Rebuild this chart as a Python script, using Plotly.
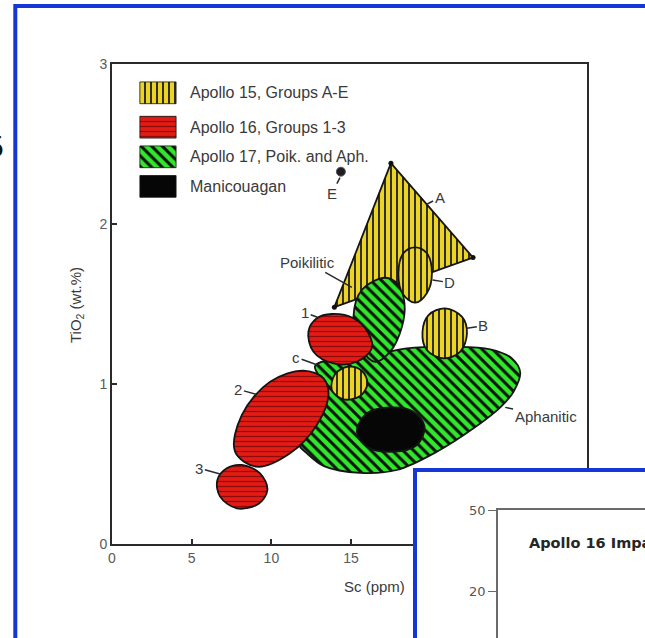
import math
import plotly.graph_objects as go

W, H = 645, 638

# ---------------- Field outlines: Sc (ppm) vs TiO2 (wt.%) ----------------
A15_A_SC = [17.50, 22.65, 13.95]
A15_A_TIO2 = [2.38, 1.79, 1.48]

A15_D_SC = [19.02, 19.75, 20.07, 19.75, 19.02, 18.25, 17.97, 18.28]
A15_D_TIO2 = [1.854, 1.817, 1.692, 1.567, 1.508, 1.5625, 1.692, 1.817]

A15_B_SC = [20.90, 21.95, 22.27, 21.85, 20.80, 19.75, 19.48, 19.86]
A15_B_TIO2 = [1.473, 1.421, 1.317, 1.202, 1.16, 1.2125, 1.327, 1.431]

A15_C_SC = [14.83, 15.67, 16.03, 15.57, 14.52, 13.79, 14.00]
A15_C_TIO2 = [1.108, 1.083, 1.004, 0.925, 0.904, 0.9625, 1.0625]

A15_E_SC = [14.36]
A15_E_TIO2 = [2.327]

A16_1_SC = [13.79, 15.15, 16.09, 16.30, 15.36, 13.89, 12.64, 12.32, 12.85]
A16_1_TIO2 = [1.4375, 1.4105, 1.317, 1.223, 1.139, 1.129, 1.202, 1.327, 1.4105]

A16_2_SC = [12.01, 13.27, 13.58, 12.85, 11.17, 9.08, 7.72, 8.14, 9.92]
A16_2_TIO2 = [1.083, 1.0355, 0.931, 0.744, 0.567, 0.483, 0.577, 0.806, 1.014]

A16_3_SC = [8.14, 9.29, 9.75, 9.18, 7.83, 6.78, 6.61, 7.20]
A16_3_TIO2 = [0.494, 0.442, 0.3375, 0.25, 0.223, 0.296, 0.40, 0.473]

A17_POIK_SC = [17.14, 17.97, 18.35, 18.19, 17.45, 16.51, 15.57, 15.15, 15.67]
A17_POIK_TIO2 = [1.664, 1.619, 1.504, 1.358, 1.202, 1.139, 1.233, 1.421, 1.5875]

A17_APH_SC = [12.74, 14.10, 16.40, 18.50, 21.43, 23.73, 25.09, 25.61, 25.19,
              24.36, 22.68, 20.38, 17.87, 15.57, 13.30, 12.20, 11.75, 12.60, 13.20]
A17_APH_TIO2 = [1.1125, 1.16, 1.181, 1.223, 1.233, 1.217, 1.16, 1.071, 0.952,
                0.854, 0.723, 0.577, 0.4625, 0.445, 0.487, 0.57, 0.62, 0.82, 1.0]

MANIC_SC = [17.50, 18.91, 19.61, 19.13, 17.66, 15.99, 15.36, 15.99]
MANIC_TIO2 = [0.854, 0.827, 0.733, 0.619, 0.577, 0.608, 0.702, 0.817]

# Field labels and the point each leader touches
LABEL_TEXT = ["A", "B", "c", "D", "E", "1", "2", "3", "Poikilitic", "Aphanitic"]
LABEL_SC = [20.55, 23.30, 11.55, 21.20, 13.79, 12.12, 7.93, 5.48, 12.26, 27.20]
LABEL_TIO2 = [2.165, 1.365, 1.167, 1.633, 2.19, 1.446, 0.967, 0.473, 1.76, 0.80]
LEADER_SC = [19.78, 22.27, 12.89, 20.11, 14.30, 12.89, 9.04, 6.78, 15.05, 24.67]
LEADER_TIO2 = [2.125, 1.348, 1.119, 1.65, 2.29, 1.417, 0.9355, 0.4375, 1.604, 0.854]

# Legend
LEGEND_LABELS = ["Apollo 15, Groups A-E", "Apollo 16, Groups 1-3",
                 "Apollo 17, Poik. and Aph.", "Manicouagan"]
LEGEND_KEYS = ["a15", "a16", "a17", "manic"]

# Axis ticks
X_TICKS = [0, 5, 10, 15, 20, 25, 30]
Y_TICKS = [0, 1, 2, 3]
INSET_TICKS = [20, 50]

# ---------------- Styling ----------------
OUTLINE = "#141414"
STYLE = {
    "a15": dict(fill="#ecd426", fg="#1c1c1c", shape="|", size=6, solidity=0.3),
    "a16": dict(fill="#e31b14", fg="#8e0b0b", shape="-", size=5, solidity=0.26),
    "a17": dict(fill="#30e82b", fg="#111111", shape="\\", size=7.5, solidity=0.4),
    "manic": dict(fill="#060606"),
}
TEXT = "#3a3a3a"
TICK_TEXT = "#5a5a5a"
FONT = "Liberation Sans, Arial, sans-serif"
BLUE = "#1637d6"

# legend geometry (axis units)
LEG_X0, LEG_X1, LEG_TXT_X = 1.75, 4.02, 4.77
LEG_ROW_Y = [2.82, 2.605, 2.42, 2.235]
LEG_HALF_H = 0.068


def px_x(x):
    return x / W


def px_y(y):
    return 1 - y / H


def field(xs, ys, key, smooth=True):
    st = STYLE[key]
    xs = list(xs) + [xs[0]]
    ys = list(ys) + [ys[0]]
    kw = dict(
        x=xs, y=ys, mode="lines", fill="toself", fillcolor=st["fill"],
        line=dict(color=OUTLINE, width=1.8,
                  shape="spline" if smooth else "linear", smoothing=1.0),
        hoverinfo="skip", showlegend=False,
    )
    if "shape" in st:
        kw["fillpattern"] = dict(shape=st["shape"], fgcolor=st["fg"],
                                 bgcolor=st["fill"], size=st["size"],
                                 solidity=st["solidity"], fillmode="replace")
    return go.Scatter(**kw)


fig = go.Figure()

# drawing order: bottom to top
fig.add_trace(field(A17_APH_SC, A17_APH_TIO2, "a17"))
fig.add_trace(field(A15_A_SC, A15_A_TIO2, "a15", smooth=False))
fig.add_trace(field(A17_POIK_SC, A17_POIK_TIO2, "a17"))
fig.add_trace(field(A15_D_SC, A15_D_TIO2, "a15"))
fig.add_trace(field(A15_B_SC, A15_B_TIO2, "a15"))
fig.add_trace(field(A15_C_SC, A15_C_TIO2, "a15"))
fig.add_trace(field(MANIC_SC, MANIC_TIO2, "manic"))
fig.add_trace(field(A16_2_SC, A16_2_TIO2, "a16"))
fig.add_trace(field(A16_3_SC, A16_3_TIO2, "a16"))
fig.add_trace(field(A16_1_SC, A16_1_TIO2, "a16"))

# vertex dots of field A and the single group E analysis
fig.add_trace(go.Scatter(x=A15_A_SC, y=A15_A_TIO2, mode="markers",
                         marker=dict(size=5, color="#111"), hoverinfo="skip",
                         showlegend=False))
fig.add_trace(go.Scatter(x=A15_E_SC, y=A15_E_TIO2, mode="markers",
                         marker=dict(size=9, color="#1e1e1e",
                                     line=dict(color="#555", width=1)),
                         hoverinfo="skip", showlegend=False))

# legend keys
for i, key in enumerate(LEGEND_KEYS):
    yc = LEG_ROW_Y[i]
    bx = [LEG_X0, LEG_X1, LEG_X1, LEG_X0]
    by = [yc - LEG_HALF_H, yc - LEG_HALF_H, yc + LEG_HALF_H, yc + LEG_HALF_H]
    tr = field(bx, by, key, smooth=False)
    tr.line.width = 0.8
    fig.add_trace(tr)

# inset placeholder trace so its axes exist
fig.add_trace(go.Scatter(x=[], y=[], xaxis="x3", yaxis="y3", showlegend=False))

annotations = []
for i, t in enumerate(LEGEND_LABELS):
    annotations.append(dict(
        x=LEG_TXT_X, y=LEG_ROW_Y[i], xref="x", yref="y", text=t,
        showarrow=False, xanchor="left", yanchor="middle",
        font=dict(family=FONT, size=16, color=TEXT)))

for t, lx, ly, tx, ty in zip(LABEL_TEXT, LABEL_SC, LABEL_TIO2, LEADER_SC, LEADER_TIO2):
    annotations.append(dict(
        x=tx, y=ty, xref="x", yref="y", ax=lx, ay=ly, axref="x", ayref="y",
        text=t, showarrow=True, arrowhead=0, arrowwidth=1.5,
        arrowcolor="#2a2a2a", standoff=0,
        font=dict(family=FONT, size=15, color=TEXT)))

# axis titles
annotations.append(dict(
    x=px_x(374), y=px_y(586), xref="paper", yref="paper", text="Sc (ppm)",
    showarrow=False, xanchor="center", yanchor="middle",
    font=dict(family=FONT, size=15, color=TEXT)))
annotations.append(dict(
    x=px_x(76), y=px_y(305), xref="paper", yref="paper",
    text="TiO<sub>2</sub> (wt.%)", textangle=-90, showarrow=False,
    xanchor="center", yanchor="middle",
    font=dict(family=FONT, size=15, color=TEXT)))

# inset title
annotations.append(dict(
    x=px_x(527), y=px_y(543), xref="paper", yref="paper",
    text="<b>Apollo 16 Impact Melts</b>", showarrow=False,
    xanchor="left", yanchor="middle",
    font=dict(family="DejaVu Sans, sans-serif", size=14.5, color="#262626")))

# figure-number glyph at the left edge
annotations.append(dict(
    x=px_x(7), y=px_y(147), xref="paper", yref="paper", text="5",
    showarrow=False, xanchor="right", yanchor="middle",
    font=dict(family="DejaVu Sans, sans-serif", size=28, color="#111")))

axis_common = dict(showgrid=False, zeroline=False, automargin=False)

fig.update_layout(
    template="none",
    width=W, height=H, margin=dict(l=0, r=0, t=0, b=0, pad=0),
    autosize=False,
    paper_bgcolor="white", plot_bgcolor="white",
    showlegend=False,
    xaxis=dict(domain=[px_x(112), px_x(587)], range=[0, 29.8],
               tickvals=X_TICKS, ticks="inside", ticklen=5, tickwidth=1.5,
               tickcolor="#2a2a2a", showline=True, linewidth=2,
               linecolor="#2a2a2a", mirror=True, anchor="y",
               tickfont=dict(family=FONT, size=14, color=TICK_TEXT),
               **axis_common),
    yaxis=dict(domain=[px_y(544), px_y(64)], range=[0, 3],
               tickvals=Y_TICKS, ticks="inside", ticklen=5, tickwidth=1.5,
               tickcolor="#2a2a2a", showline=True, linewidth=2,
               linecolor="#2a2a2a", mirror=True, anchor="x",
               tickfont=dict(family=FONT, size=14, color=TICK_TEXT),
               **axis_common),
    # panel that sits over the lower-right corner
    xaxis2=dict(domain=[px_x(417), 1], range=[0, 1], anchor="y2", side="top",
                showline=True, linecolor=BLUE, linewidth=4, ticks="",
                showticklabels=False, **axis_common),
    yaxis2=dict(domain=[0, px_y(472)], range=[0, 1], anchor="x2", side="left",
                showline=True, linecolor=BLUE, linewidth=4, ticks="",
                showticklabels=False, **axis_common),
    # the inset chart itself
    xaxis3=dict(domain=[px_x(498), 1], range=[0, 1], anchor="y3", side="top",
                showline=True, linecolor="#6a6a6a", linewidth=1.5, ticks="",
                showticklabels=False, **axis_common),
    yaxis3=dict(domain=[0, px_y(510)], type="log",
                range=[1.0755, math.log10(50)], anchor="x3",
                tickvals=INSET_TICKS, ticks="outside", ticklen=8,
                tickcolor="#6a6a6a", tickwidth=1.2, showline=True,
                linecolor="#6a6a6a", linewidth=1.5,
                tickfont=dict(family="DejaVu Sans, sans-serif", size=13,
                              color="#555"),
                **axis_common),
    annotations=annotations,
    shapes=[
        # outer frame
        dict(type="rect", xref="paper", yref="paper",
             x0=px_x(15.3), x1=1.2, y0=-0.2, y1=px_y(6),
             line=dict(color=BLUE, width=4), fillcolor="rgba(0,0,0,0)",
             layer="below"),
        # white backing of the overlapping panel
        dict(type="rect", xref="x2", yref="y2", x0=0, x1=1, y0=0, y1=1,
             fillcolor="white", line=dict(width=0), layer="below"),
    ],
)

fig.write_html("out.html")
